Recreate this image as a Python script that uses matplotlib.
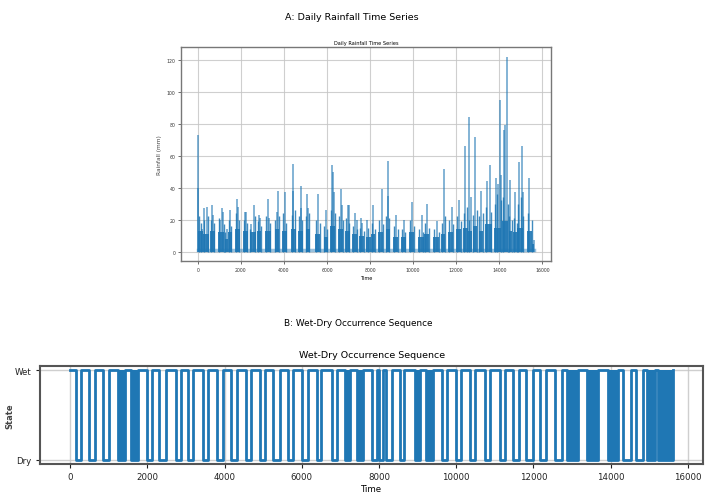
import matplotlib
matplotlib.use("Agg")
import matplotlib.pyplot as plt

# === Fonts ===
plt.rcParams['font.family'] = ['Liberation Sans Narrow', 'DejaVu Sans']

BLUE = "#1f77b4"

# === Panel A data: wet seasons (day range + typical height) and spikes ===
season_start = [0, 230, 560, 940, 1250, 1400, 1740, 2100, 2400, 2740, 3140, 3560,
                3920, 4320, 4660, 5000, 5460, 5840, 6140, 6500, 6840, 7180, 7480,
                7820, 8040, 8380, 8720, 9060, 9440, 9820, 10240, 10520, 10940,
                11300, 11620, 11980, 12320, 12540, 12760, 13040, 13340, 13740,
                14120, 14440, 14640, 14840, 15300, 15520]
season_end = [230, 500, 800, 1220, 1400, 1600, 1960, 2320, 2700, 2940, 3380, 3780,
              4120, 4540, 4890, 5220, 5680, 6040, 6360, 6760, 7060, 7400, 7720,
              8040, 8240, 8600, 8920, 9300, 9660, 10040, 10480, 10740, 11200,
              11500, 11860, 12220, 12540, 12720, 12980, 13260, 13640, 14100,
              14420, 14600, 14840, 15120, 15520, 15620]
season_mm = [13, 11, 13, 12, 8, 12, 14, 13, 12, 13, 13, 14,
             13, 14, 13, 14, 11, 9, 16, 14, 13, 11, 10,
             9, 11, 12, 14, 9, 9, 12, 9, 11, 9,
             11, 12, 14, 15, 13, 16, 13, 17, 15,
             19, 13, 12, 15, 13, 5]

# tall spikes
spike_day = [15, 30, 215, 300, 420, 670, 700, 1040, 1140, 1180, 1340, 1500,
             1840, 1870, 2200, 2250, 2480, 2610, 2830, 2870, 3260, 3300, 3660,
             3720, 4030, 4400, 4440, 4780, 4800, 5080, 5120, 5590, 5960, 6240,
             6280, 6340, 6640, 6700, 6960, 7000, 7320, 7380, 7600, 7640, 7840,
             8150, 8530, 8820, 8850, 9220, 9560, 9950, 10400, 10660, 11120,
             11420, 11780, 12150, 12420, 12610, 12700, 12890, 13150, 13430,
             13570, 13850, 13950, 14040, 14100, 14220, 14270, 14340, 14510,
             14740, 14930, 15040, 15100, 15400, 15620]
spike_mm = [73, 40, 14, 27, 28, 29, 23, 20, 27, 25, 14, 26,
            33, 28, 25, 25, 17, 29, 23, 21, 33, 21, 25,
            38, 37, 55, 38, 41, 27, 36, 27, 36, 26, 54,
            50, 37, 39, 29, 29, 29, 24, 20, 21, 18, 20,
            29, 39, 57, 35, 23, 20, 31, 23, 30, 19,
            52, 28, 32, 66, 84, 34, 72, 38, 44,
            54, 46, 42, 95, 48, 76, 79, 122, 45,
            37, 56, 66, 37, 46, 7]

# medium spikes inside the seasons
mid_day = [60, 160, 280, 460, 600, 760, 990, 1200, 1280, 1450, 1560, 1780, 1920,
           2140, 2300, 2430, 2660, 2780, 2920, 3180, 3350, 3600, 3760, 3960, 4100,
           4350, 4500, 4700, 4860, 5020, 5180, 5500, 5660, 5880, 6020, 6180, 6380,
           6540, 6740, 6880, 7040, 7220, 7400, 7520, 7700, 7880, 8080, 8220, 8420,
           8580, 8760, 8900, 9100, 9280, 9480, 9640, 9860, 10020, 10280, 10460,
           10560, 10720, 10980, 11180, 11340, 11480, 11660, 11840, 12020, 12200,
           12360, 12520, 12580, 12760, 12960, 13080, 13240, 13380, 13620, 13780,
           13900, 14060, 14160, 14400, 14460, 14580, 14680, 14820, 14880, 15000,
           15100, 15340, 15500]
mid_mm = [22, 18, 20, 22, 20, 18, 21, 17, 12, 20, 16, 24, 20,
          20, 18, 14, 22, 19, 16, 22, 18, 20, 22, 24, 18,
          23, 26, 22, 20, 22, 24, 20, 18, 16, 14, 26, 24,
          22, 20, 21, 18, 16, 14, 15, 13, 15, 18, 14, 20,
          17, 22, 21, 16, 14, 14, 12, 20, 16, 14, 12,
          18, 15, 14, 12, 18, 22, 20, 17, 22, 19,
          24, 28, 20, 23, 26, 22, 24, 28, 25, 30,
          36, 32, 34, 30, 22, 20, 21, 18, 30, 34,
          22, 24, 20]

# === Panel B data: dry spells (start/end day) and whether the spell flickers ===
dry_start = [150, 500, 855, 1250, 1580, 2000, 2290, 2735, 3060, 3430, 3800, 4170,
             4560, 4920, 5260, 5640, 6000, 6390, 6770, 7120, 7430, 7810, 8000,
             8180, 8540, 8930, 9230, 9620, 10000, 10350, 10740, 11130, 11460,
             11820, 12180, 12560, 12860, 13380, 13930, 14320, 14670, 14930, 15230]
dry_end = [280, 645, 1010, 1420, 1760, 2120, 2470, 2870, 3190, 3580, 3950, 4310,
           4680, 5050, 5430, 5770, 6170, 6510, 6900, 7250, 7590, 7940, 8100,
           8330, 8650, 9050, 9400, 9760, 10120, 10480, 10870, 11260, 11630,
           11980, 12330, 12730, 13160, 13680, 14190, 14540, 14830, 15140, 15620]
dry_dense = [0, 0, 0, 1, 1, 0, 0, 0, 0, 0, 0, 0,
             0, 0, 0, 0, 0, 0, 0, 1, 1, 0, 0,
             0, 0, 1, 1, 0, 0, 0, 0, 0, 0,
             0, 0, 0, 1, 1, 1, 0, 0, 1, 1]
state_labels = ["Dry", "Wet"]
last_day = 15620

fig = plt.figure(figsize=(7.13, 5.02), dpi=100)

# === Panel A ===
axA = fig.add_axes([0.2539, 0.4775, 0.5189, 0.4269])
for s, e, h in zip(season_start, season_end, season_mm):
    axA.fill_between([s, e], 0, h, color=BLUE, lw=0, alpha=0.9)
axA.vlines(mid_day, 0, mid_mm, color=BLUE, lw=1.0, alpha=0.85)
axA.vlines(spike_day, 0, spike_mm, color=BLUE, lw=1.1, alpha=0.7)
axA.plot([0, last_day], [1, 1], color=BLUE, lw=2.5, alpha=0.45)
axA.set_xlim(-781, 16401)
axA.set_ylim(-6.1, 128.1)
axA.set_xticks(range(0, 16001, 2000))
axA.set_yticks(range(0, 121, 20))
axA.grid(True, color="#c4c4c4", lw=0.8, alpha=0.8)
axA.set_axisbelow(True)
axA.tick_params(labelsize=3.3, length=2, width=0.5, pad=2, colors="#333333")
for sp in axA.spines.values():
    sp.set_color("#777777")
    sp.set_linewidth(1.0)
axA.set_title("Daily Rainfall Time Series", fontsize=3.6, pad=2.5)
axA.set_ylabel("Rainfall (mm)", fontsize=4.2, family="DejaVu Sans", color="#444444", labelpad=3)
axA.set_xlabel("Time", fontsize=3.6, labelpad=2)

# === Panel B ===
axB = fig.add_axes([0.0561, 0.0737, 0.9303, 0.1958])
xs, ys = [0], [1]
for s, e, d in zip(dry_start, dry_end, dry_dense):
    xs += [s, s, e, e]
    ys += [1, 0, 0, 1]
    if d:
        axB.fill_between([s, e], 0, 1, color=BLUE, lw=0)
xs.append(last_day)
ys.append(1)
axB.plot(xs, ys, color=BLUE, lw=2.0)
axB.set_xlim(-781, 16401)
axB.set_ylim(-0.05, 1.05)
axB.set_yticks([0, 1])
axB.set_yticklabels(state_labels)
axB.set_xticks(range(0, 16001, 2000))
axB.grid(True, color="#c4c4c4", lw=1.0, alpha=0.8)
axB.set_axisbelow(True)
axB.tick_params(labelsize=6.2, length=3, width=0.8, pad=3, colors="#222222")
for sp in axB.spines.values():
    sp.set_color("#555555")
    sp.set_linewidth(1.5)
axB.set_title("Wet-Dry Occurrence Sequence", fontsize=6.8, pad=6)
axB.set_ylabel("State", fontsize=6, family="DejaVu Sans", weight="bold", color="#444444")
axB.yaxis.set_label_coords(-0.038, 0.5)
axB.set_xlabel("Time", fontsize=6.2, labelpad=2)

# === Panel captions ===
fig.text(352 / 713, 1 - 18 / 502, "A: Daily Rainfall Time Series", fontsize=6.8, ha="center", va="center")
fig.text(358 / 713, 1 - 324 / 502, "B: Wet-Dry Occurrence Sequence", fontsize=6.4, ha="center", va="center")

fig.savefig("out.png", dpi=100)
